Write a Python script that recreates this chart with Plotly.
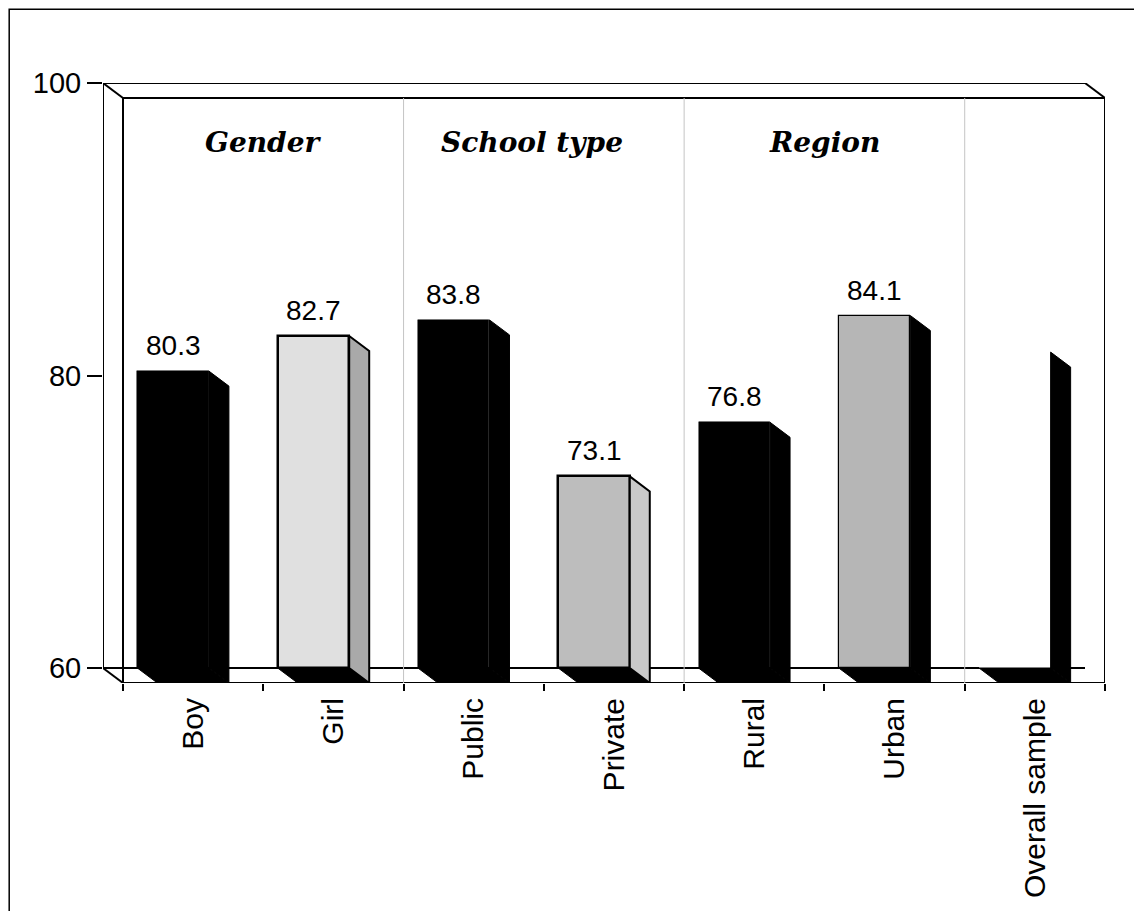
import plotly.graph_objects as go

# ---- data ----
categories = ["Boy", "Girl", "Public", "Private", "Rural", "Urban", "Overall sample"]
values = [80.3, 82.7, 83.8, 73.1, 76.8, 84.1, 81.6]
value_labels = ["80.3", "82.7", "83.8", "73.1", "76.8", "84.1", ""]
groups = ["Gender", "School type", "Region"]
group_members = [(0, 1), (2, 3), (4, 5)]
y_ticks = [60, 80, 100]

# ---- styles ----
front_colors = ["#000000", "#e0e0e0", "#000000", "#bdbdbd", "#000000", "#b6b6b6", "#ffffff"]
front_lines = [0.5, 2.5, 0.5, 2.5, 0.5, 1.2, 0]
side_colors = ["#000000", "#a9a9a9", "#000000", "#c9c9c9", "#000000", "#000000", "#000000"]
side_lines = [1, 2, 1, 2, 1, 1, 1]
group_xshift = [0, -12, 0]

W = 0.51         # front face width (category units)
DX = 0.1426      # depth offset in x (category units)
DY = -1.0256     # depth offset in y (value units)
BASE = 60
TOP = 100
X0, X1 = -0.5, len(categories) - 0.5

# page body has an 8px margin; figure sized to fit the window
PAGE = 8
FW, FH = 1142 - PAGE, 911 - PAGE
L, T = 103 - PAGE, 83 - PAGE
R, B = 37, 228

fig = go.Figure()

# bottom faces
for i, v in enumerate(values):
    xs = [i - W / 2, i + W / 2, i + W / 2 + DX, i - W / 2 + DX, i - W / 2]
    ys = [BASE, BASE, BASE + DY, BASE + DY, BASE]
    fig.add_trace(go.Scatter(x=xs, y=ys, fill="toself", fillcolor="#000000",
                             mode="lines", line=dict(color="#000000", width=1),
                             hoverinfo="skip", showlegend=False))

# side faces
for i, v in enumerate(values):
    xr = i + W / 2
    xs = [xr, xr, xr + DX, xr + DX, xr]
    ys = [BASE, v, v + DY, BASE + DY, BASE]
    fig.add_trace(go.Scatter(x=xs, y=ys, fill="toself", fillcolor=side_colors[i],
                             mode="lines", line=dict(color="#000000", width=side_lines[i]),
                             hoverinfo="skip", showlegend=False))

# front faces
fig.add_trace(go.Bar(
    x=list(range(len(categories))),
    y=[v - BASE for v in values],
    base=BASE,
    width=W,
    marker=dict(color=front_colors,
                line=dict(color=["#000000" if w > 0 else "#ffffff" for w in front_lines],
                          width=front_lines)),
    hoverinfo="skip", showlegend=False,
))

# value labels
for i, (v, t) in enumerate(zip(values, value_labels)):
    if t:
        fig.add_annotation(x=i, y=v, text=t, showarrow=False, yanchor="bottom",
                           yshift=8, font=dict(family="Liberation Sans, Arial", size=28, color="#000"))

# group labels
for g, (a, b), xs_ in zip(groups, group_members, group_xshift):
    fig.add_annotation(x=(a + b) / 2 + DX, y=95.9, text=f"<b><i>{g}</i></b>", showarrow=False,
                       xshift=xs_, font=dict(family="DejaVu Serif", size=28, color="#000"))

# 3D frame
blk = dict(color="#000000", width=2)
lines = [
    (X0, TOP, X0, BASE),                       # front left vertical
    (X0, TOP, X1, TOP),                        # front top
    (X0, BASE, X1, BASE),                      # front floor
    (X0 + DX, TOP + DY, X1 + DX, TOP + DY),    # back top
    (X0 + DX, TOP + DY, X0 + DX, BASE + DY),   # back left vertical
    (X1 + DX, TOP + DY, X1 + DX, BASE + DY),   # back right vertical
    (X0 + DX, BASE + DY, X1 + DX, BASE + DY),  # back floor
    (X0, TOP, X0 + DX, TOP + DY),
    (X1, TOP, X1 + DX, TOP + DY),
    (X0, BASE, X0 + DX, BASE + DY),
]
for (xa, ya, xb, yb) in lines:
    fig.add_shape(type="line", x0=xa, y0=ya, x1=xb, y1=yb, xref="x", yref="y",
                  line=blk, layer="below")
# group separators on back wall
for k in [1.5, 3.5, 5.5]:
    fig.add_shape(type="line", x0=k + DX, y0=TOP + DY, x1=k + DX, y1=BASE + DY,
                  xref="x", yref="y", line=dict(color="#c4c4c4", width=1), layer="below")

# outer border (figure pixels ~1 .. 1129 horizontally, from y=1 down past the bottom)
pw = FW - L - R
ph = FH - T - B
fig.add_shape(type="rect", xref="paper", yref="paper",
              x0=(1.2 - L) / pw, x1=(1129 - L) / pw,
              y0=(FH - B - 930) / ph, y1=(FH - B - 1.2) / ph,
              line=dict(color="#000000", width=1.5), fillcolor="rgba(0,0,0,0)", layer="below")

fig.update_layout(
    width=FW, height=FH,
    margin=dict(l=L, r=R, t=T, b=B),
    paper_bgcolor="white", plot_bgcolor="white",
    font=dict(family="Liberation Sans, Arial", color="#000"),
    bargap=0,
)
fig.update_xaxes(
    range=[X0, X1 + DX], showgrid=False, zeroline=False, showline=False,
    tickmode="array", tickvals=[i + DX for i in range(len(categories))], ticktext=categories,
    tickangle=-90, ticks="", tickfont=dict(size=30), ticklabelstandoff=8,
    minor=dict(tickmode="array", tickvals=[k - 0.5 + DX for k in range(len(categories) + 1)],
               ticks="outside", ticklen=7, tickwidth=1.5, tickcolor="#000"),
)
fig.update_yaxes(
    range=[BASE + DY, TOP], showgrid=False, zeroline=False, showline=False,
    tickmode="array", tickvals=y_ticks, ticks="outside", ticklen=15, tickwidth=1.5,
    tickcolor="#000", tickfont=dict(size=29),
)

fig.write_html("out.html")
